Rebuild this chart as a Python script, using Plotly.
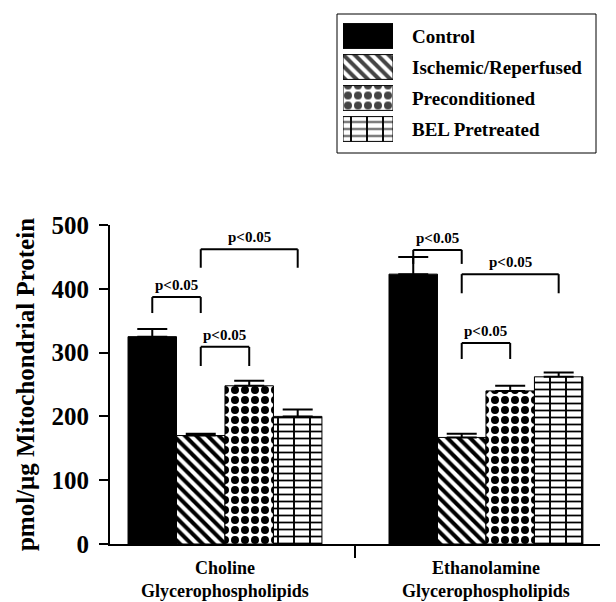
import plotly.graph_objects as go

# ---- data ----
categories = ["Choline<br>Glycerophospholipids", "Ethanolamine<br>Glycerophospholipids"]
series_names = ["Control", "Ischemic/Reperfused", "Preconditioned", "BEL Pretreated"]
control = [325, 423]
control_err = [12, 27]
ischemic = [170, 167]
ischemic_err = [3, 6]
preconditioned = [248, 240]
preconditioned_err = [8, 8]
bel = [200, 262]
bel_err = [11, 7]
values = [control, ischemic, preconditioned, bel]
errors = [control_err, ischemic_err, preconditioned_err, bel_err]

y_ticks = [0, 100, 200, 300, 400, 500]

# significance comparisons: (category index, bar a, bar b, bracket top, leg bottom)
comparisons = [
    (0, 0, 1, 387, 362),
    (0, 1, 2, 309, 279),
    (0, 1, 3, 462, 433),
    (1, 0, 1, 461, 439),
    (1, 1, 3, 423, 393),
    (1, 1, 2, 315, 290),
]
sig_label = "p<0.05"

# ---- styles ----
FONT = "Liberation Serif"
BARGAP = 0.257
patterns = [
    dict(shape="", fgcolor="black", bgcolor="black"),
    dict(shape="\\", size=8, solidity=0.5, fgcolor="black", bgcolor="white"),
    dict(shape=".", size=10, solidity=0.5, fgcolor="black", bgcolor="white"),
    dict(shape="-", size=7, solidity=0.25, fgcolor="black", bgcolor="white"),
]
fills = ["black", "white", "white", "white"]

fig = go.Figure()
for k, name in enumerate(series_names):
    pat = dict(patterns[k], fgopacity=1)
    fig.add_trace(go.Bar(
        x=categories, y=values[k], name=name, offsetgroup=f"g{k}",
        marker=dict(color=fills[k], pattern=pat,
                    line=dict(color="black", width=1)),
        error_y=dict(type="data", array=errors[k], arrayminus=[0] * len(errors[k]),
                     symmetric=False, color="black", thickness=2, width=15),
        showlegend=False, xaxis="x", yaxis="y",
    ))
# vertical joints of the brick pattern (overlaid on BEL bars)
fig.add_trace(go.Bar(
    x=categories, y=bel, offsetgroup="g3", hoverinfo="skip",
    marker=dict(color="rgba(0,0,0,0)",
                pattern=dict(shape="|", size=16, solidity=0.12, fgcolor="black",
                             bgcolor="rgba(0,0,0,0)", fgopacity=1),
                line=dict(width=0)),
    showlegend=False, xaxis="x", yaxis="y",
))

# ---- custom legend swatches (inset axes) ----
fig.add_trace(go.Bar(
    x=[1] * len(series_names), y=series_names, orientation="h", width=0.8,
    offsetgroup="leg", xaxis="x2", yaxis="y2", showlegend=False, hoverinfo="skip",
    marker=dict(
        color=fills,
        pattern=dict(shape=[p["shape"] for p in patterns],
                     size=[p.get("size", 8) for p in patterns],
                     solidity=[p.get("solidity", 0.3) for p in patterns],
                     fgcolor=[p["fgcolor"] for p in patterns],
                     bgcolor=[p["bgcolor"] for p in patterns],
                     fgopacity=1),
        line=dict(color="black", width=1)),
))
fig.add_trace(go.Bar(
    x=[1], y=[series_names[3]], orientation="h", width=0.8,
    offsetgroup="leg", xaxis="x2", yaxis="y2", showlegend=False, hoverinfo="skip",
    marker=dict(color="rgba(0,0,0,0)",
                pattern=dict(shape="|", size=16, solidity=0.12, fgcolor="black",
                             bgcolor="rgba(0,0,0,0)", fgopacity=1),
                line=dict(width=0)),
))

# ---- significance brackets ----
w = (1 - BARGAP) / 4
def bar_center(cat, i):
    return cat - (1 - BARGAP) / 2 + (i + 0.5) * w

shapes = []
annotations = []
for cat, a, b, top, leg in comparisons:
    xa, xb = bar_center(cat, a), bar_center(cat, b)
    line = dict(color="black", width=2)
    shapes.append(dict(type="line", xref="x", yref="y", x0=xa, x1=xb, y0=top, y1=top, line=line))
    shapes.append(dict(type="line", xref="x", yref="y", x0=xa, x1=xa, y0=top, y1=leg, line=line))
    shapes.append(dict(type="line", xref="x", yref="y", x0=xb, x1=xb, y0=top, y1=leg, line=line))
    annotations.append(dict(x=(xa + xb) / 2, y=top, xref="x", yref="y", text=sig_label,
                            showarrow=False, yanchor="bottom", yshift=2,
                            font=dict(family=FONT, size=15, color="black", weight="bold")))

# layout geometry (page shows the figure offset by the 8px body margin)
W, H = 616, 602
OFF = 8
PL, PR, PT, PB = 110, 600, 10, 544          # plot area in page pixels
ML, MT = PL - OFF, PT - OFF
MR, MB = W - (PR - OFF), H - (PB - OFF)
PW, PH = PR - PL, PB - PT
def px(xp):
    return (xp - PL) / PW
def py(yp):
    return (PB - yp) / PH

shapes.append(dict(type="rect", xref="paper", yref="paper",
                   x0=px(337), x1=px(596), y0=py(153), y1=py(14),
                   line=dict(color="black", width=1)))

fig.update_layout(
    width=W, height=H,
    margin=dict(l=ML, r=MR, t=MT, b=MB, autoexpand=False),
    plot_bgcolor="white", paper_bgcolor="white",
    barmode="group", bargap=BARGAP, bargroupgap=0,
    font=dict(family=FONT, color="black", weight="bold"),
    shapes=shapes, annotations=annotations,
    xaxis=dict(
        domain=[0, 1], anchor="y", type="category", range=[-0.4406, 1.437],
        showline=True, linewidth=2, linecolor="black", automargin=False,
        tickson="boundaries", ticks="outside", ticklen=12, tickwidth=2, tickcolor="black",
        ticklabelstandoff=6,
        tickfont=dict(family=FONT, size=18, weight="bold"),
        showgrid=False, zeroline=False,
    ),
    yaxis=dict(
        domain=[0, py(225)], anchor="x", range=[0, 500], automargin=False,
        tickvals=y_ticks, showline=True, linewidth=2, linecolor="black",
        ticks="outside", ticklen=9, tickwidth=2, tickcolor="black",
        ticklabelstandoff=5,
        tickfont=dict(family=FONT, size=25, weight="bold"),
        showgrid=False, zeroline=False,
        title=dict(text="pmol/μg Mitochondrial Protein", standoff=10,
                   font=dict(family=FONT, size=25, weight="bold")),
    ),
    xaxis2=dict(domain=[px(343), px(393)], anchor="y2", range=[0, 1], visible=False,
                fixedrange=True, automargin=False),
    yaxis2=dict(domain=[py(144.5), py(20.5)], anchor="x2", type="category",
                categoryorder="array", categoryarray=list(reversed(series_names)),
                side="right", showline=False, ticks="", showgrid=False, zeroline=False,
                ticklabelstandoff=18, automargin=False,
                tickfont=dict(family=FONT, size=19, weight="bold")),
)

fig.write_html("out.html")
